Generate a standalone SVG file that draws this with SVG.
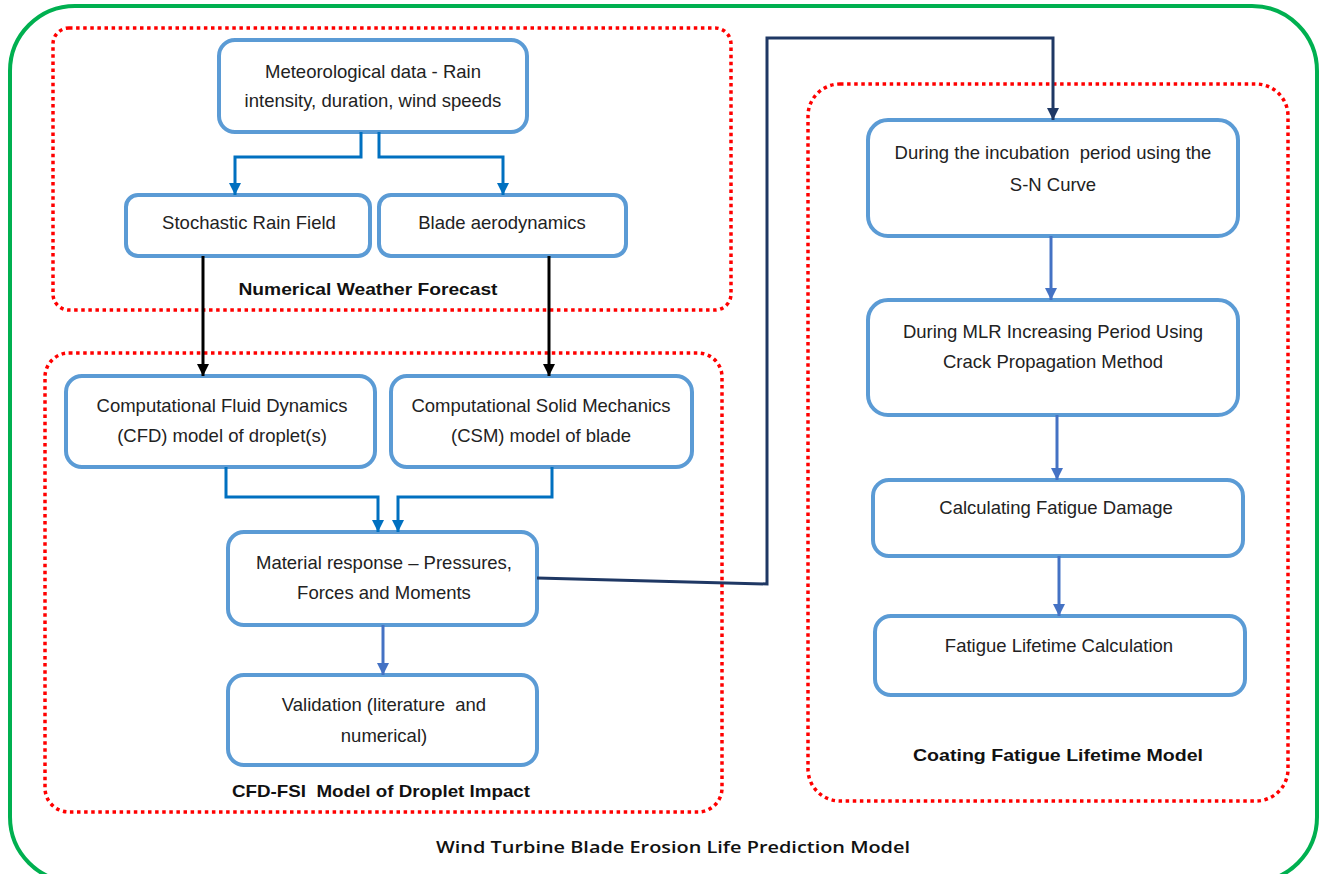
<svg xmlns="http://www.w3.org/2000/svg" width="1323" height="874" viewBox="0 0 1323 874">
<defs>
<marker id="ab2" viewBox="0 0 12 12" refX="12" refY="6" markerWidth="12" markerHeight="12" markerUnits="userSpaceOnUse" orient="auto"><path d="M0,0 L12,6 L0,12 z" fill="#0070C0"/></marker>
<marker id="ak" viewBox="0 0 12 12" refX="12" refY="6" markerWidth="12" markerHeight="12" markerUnits="userSpaceOnUse" orient="auto"><path d="M0,0 L12,6 L0,12 z" fill="#000"/></marker>
<marker id="am" viewBox="0 0 12 12" refX="12" refY="6" markerWidth="12" markerHeight="12" markerUnits="userSpaceOnUse" orient="auto"><path d="M0,0 L12,6 L0,12 z" fill="#4472C4"/></marker>
<marker id="an" viewBox="0 0 12 12" refX="12" refY="6" markerWidth="12" markerHeight="12" markerUnits="userSpaceOnUse" orient="auto"><path d="M0,0 L12,6 L0,12 z" fill="#1F3864"/></marker>
</defs>
<style>
.node{fill:#fff;stroke:#5B9BD5;stroke-width:4}
.grp{fill:none;stroke:#FF0000;stroke-width:3.5;stroke-dasharray:3.5 3.6}
.t{font-family:"Liberation Sans",Arial,sans-serif;font-size:18.5px;fill:#222;text-anchor:middle}
.lb{font-family:"Liberation Sans",Arial,sans-serif;font-size:17px;font-weight:bold;fill:#111;text-anchor:middle}
.c1{fill:none;stroke:#0070C0;stroke-width:3}
.ck{fill:none;stroke:#000;stroke-width:3}
.cm{fill:none;stroke:#4472C4;stroke-width:3}
.cn{fill:none;stroke:#1F3864;stroke-width:3}
</style>
<rect width="1323" height="874" fill="#fff"/>
<g id="outer">
<rect x="10" y="6" width="1307" height="876" rx="65" ry="65" fill="none" stroke="#00B050" stroke-width="4"/>
<text x="673" y="853" font-family="Open Sans,Liberation Sans,sans-serif" font-weight="600" font-size="16" fill="#111" text-anchor="middle" textLength="474" lengthAdjust="spacingAndGlyphs">Wind Turbine Blade Erosion Life Prediction Model</text>
</g>
<g id="grp-nwf">
<rect class="grp" x="53" y="28" width="678" height="282" rx="16"/>
<text class="lb" x="368" y="295" textLength="259" lengthAdjust="spacingAndGlyphs">Numerical Weather Forecast</text>
</g>
<g id="grp-cfd">
<rect class="grp" x="45" y="353" width="677" height="459" rx="24"/>
<text class="lb" x="381" y="797" textLength="298" lengthAdjust="spacingAndGlyphs" xml:space="preserve">CFD-FSI  Model of Droplet Impact</text>
</g>
<g id="grp-coat">
<rect class="grp" x="808" y="84" width="480" height="717" rx="32"/>
<text class="lb" x="1058" y="761" textLength="290" lengthAdjust="spacingAndGlyphs">Coating Fatigue Lifetime Model</text>
</g>
<g id="n-met">
<rect class="node" x="219" y="40" width="308" height="92" rx="16"/>
<text class="t" x="373" y="78">Meteorological data - Rain</text>
<text class="t" x="373" y="107">intensity, duration, wind speeds</text>
</g>
<g id="n-rain">
<rect class="node" x="126" y="195" width="244" height="61" rx="12"/>
<text class="t" x="249" y="229">Stochastic Rain Field</text>
</g>
<g id="n-aero">
<rect class="node" x="379" y="195" width="247" height="61" rx="12"/>
<text class="t" x="502" y="229">Blade aerodynamics</text>
</g>
<g id="n-cfd">
<rect class="node" x="66" y="376" width="309" height="91" rx="16"/>
<text class="t" x="222" y="412">Computational Fluid Dynamics</text>
<text class="t" x="222" y="442">(CFD) model of droplet(s)</text>
</g>
<g id="n-csm">
<rect class="node" x="391" y="376" width="301" height="91" rx="16"/>
<text class="t" x="541" y="412">Computational Solid Mechanics</text>
<text class="t" x="541" y="442">(CSM) model of blade</text>
</g>
<g id="n-mat">
<rect class="node" x="228" y="532" width="309" height="93" rx="16"/>
<text class="t" x="384" y="569">Material response – Pressures,</text>
<text class="t" x="384" y="599">Forces and Moments</text>
</g>
<g id="n-val">
<rect class="node" x="228" y="675" width="309" height="90" rx="16"/>
<text class="t" x="384" y="711" xml:space="preserve">Validation (literature  and</text>
<text class="t" x="384" y="742">numerical)</text>
</g>
<g id="n-inc">
<rect class="node" x="868" y="120" width="370" height="116" rx="20"/>
<text class="t" x="1053" y="159" xml:space="preserve">During the incubation  period using the</text>
<text class="t" x="1053" y="191">S-N Curve</text>
</g>
<g id="n-mlr">
<rect class="node" x="868" y="300" width="370" height="115" rx="20"/>
<text class="t" x="1053" y="338">During MLR Increasing Period Using</text>
<text class="t" x="1053" y="368">Crack Propagation Method</text>
</g>
<g id="n-dmg">
<rect class="node" x="873" y="480" width="370" height="76" rx="16"/>
<text class="t" x="1056" y="514">Calculating Fatigue Damage</text>
</g>
<g id="n-life">
<rect class="node" x="875" y="616" width="370" height="79" rx="16"/>
<text class="t" x="1059" y="652">Fatigue Lifetime Calculation</text>
</g>
<g id="connectors">
<path class="c1" d="M361,132 V157 H235 V195" marker-end="url(#ab2)"/>
<path class="c1" d="M379,132 V157 H503 V195" marker-end="url(#ab2)"/>
<path class="ck" d="M203,256 V376" marker-end="url(#ak)"/>
<path class="ck" d="M549,256 V376" marker-end="url(#ak)"/>
<path class="c1" d="M226,467 V497 H378 V532" marker-end="url(#ab2)"/>
<path class="c1" d="M552,467 V497 H398 V532" marker-end="url(#ab2)"/>
<path class="cm" d="M383,625 V675" marker-end="url(#am)"/>
<path class="cn" d="M537,578 L767,584 V38 H1053 V120" marker-end="url(#an)"/>
<path class="cm" d="M1051,236 V300" marker-end="url(#am)"/>
<path class="cm" d="M1057,415 V480" marker-end="url(#am)"/>
<path class="cm" d="M1059,556 V616" marker-end="url(#am)"/>
</g>
</svg>
